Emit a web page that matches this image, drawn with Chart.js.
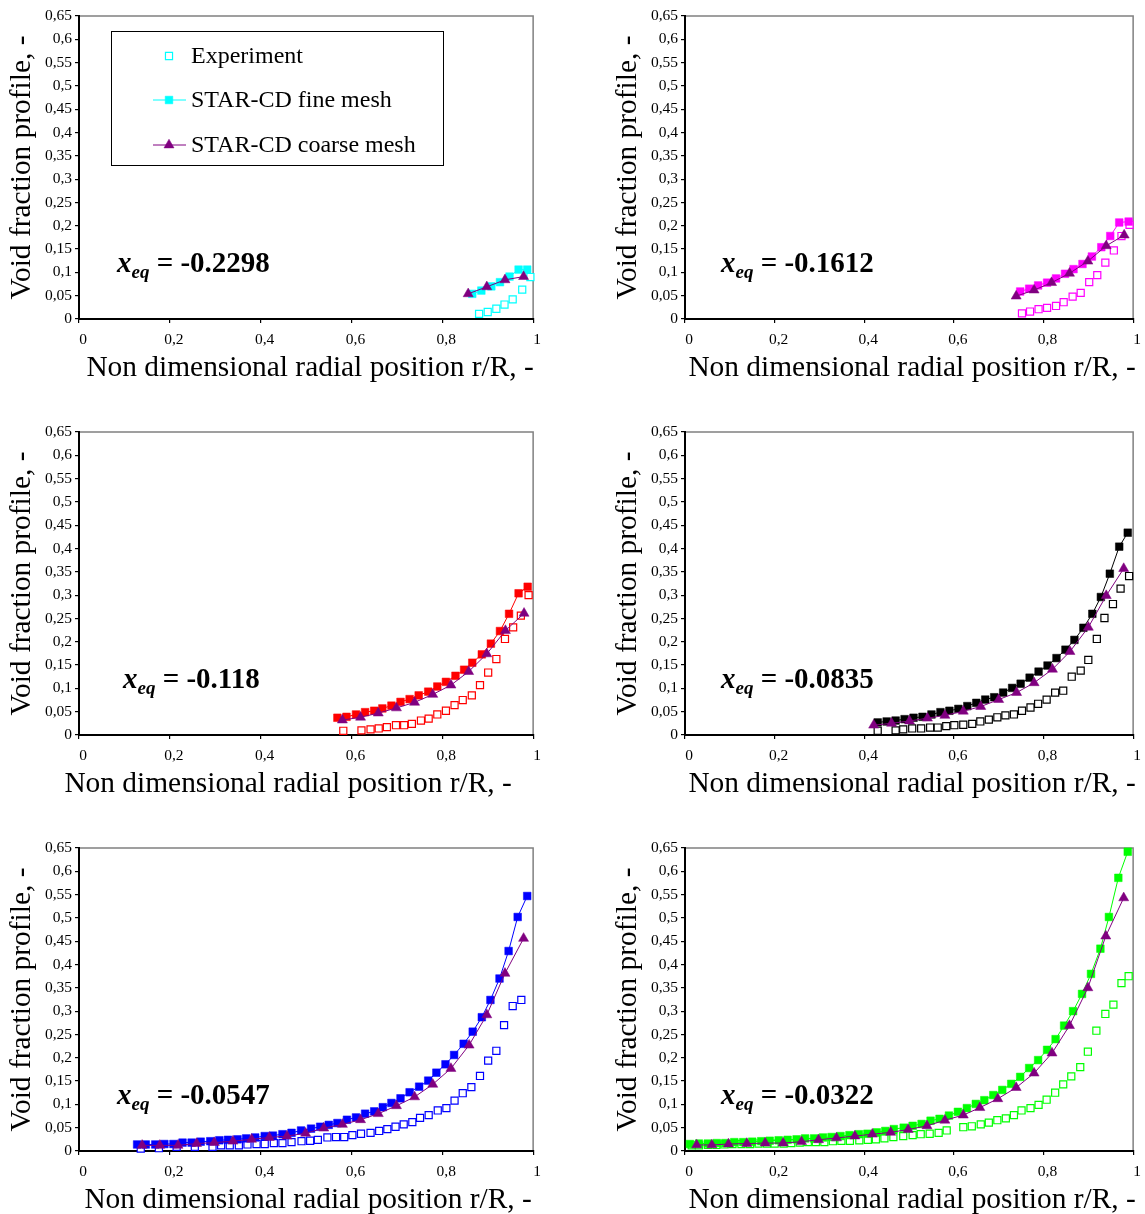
<!DOCTYPE html>
<html>
<head>
<meta charset="utf-8">
<script src="https://cdn.jsdelivr.net/npm/chart.js@4.4.0/dist/chart.umd.min.js"></script>
<style>
  html, body { margin: 0; padding: 0; background: #fff; }
  body { width: 1145px; height: 1214px; position: relative; overflow: hidden; }
  .panel { position: absolute; }
  .panel canvas { display: block; }
</style>
</head>
<body>
<div class="panel" style="left:0;top:0"><canvas id="p1" width="545" height="400"></canvas></div>
<div class="panel" style="left:606px;top:0"><canvas id="p2" width="539" height="400"></canvas></div>
<div class="panel" style="left:0;top:416px"><canvas id="p3" width="545" height="400"></canvas></div>
<div class="panel" style="left:606px;top:416px"><canvas id="p4" width="539" height="400"></canvas></div>
<div class="panel" style="left:0;top:832px"><canvas id="p5" width="545" height="400"></canvas></div>
<div class="panel" style="left:606px;top:832px"><canvas id="p6" width="539" height="400"></canvas></div>
<script>
// ---- radial void fraction profiles, r/R vs alpha ----

// x_eq = -0.2298
const p1ExpR    = [0.881, 0.900, 0.919, 0.937, 0.955, 0.976, 0.994];
const p1ExpA    = [0.011, 0.015, 0.022, 0.031, 0.042, 0.063, 0.090];
const p1FineR   = [0.866, 0.886, 0.908, 0.927, 0.948, 0.968, 0.987];
const p1FineA   = [0.054, 0.061, 0.070, 0.079, 0.091, 0.106, 0.106];
const p1CoarseR = [0.857, 0.898, 0.938, 0.979];
const p1CoarseA = [0.054, 0.069, 0.084, 0.091];

// x_eq = -0.1612
const p2ExpR    = [0.752, 0.770, 0.789, 0.808, 0.828, 0.845, 0.865, 0.883, 0.902, 0.920, 0.938, 0.957, 0.974, 0.992];
const p2ExpA    = [0.012, 0.016, 0.021, 0.024, 0.028, 0.036, 0.048, 0.056, 0.079, 0.094, 0.121, 0.147, 0.178, 0.202];
const p2FineR   = [0.748, 0.768, 0.788, 0.808, 0.828, 0.848, 0.867, 0.887, 0.908, 0.929, 0.949, 0.969, 0.990];
const p2FineA   = [0.059, 0.065, 0.072, 0.078, 0.087, 0.097, 0.107, 0.118, 0.134, 0.154, 0.178, 0.207, 0.209];
const p2CoarseR = [0.739, 0.779, 0.818, 0.858, 0.899, 0.940, 0.980];
const p2CoarseA = [0.049, 0.062, 0.078, 0.098, 0.124, 0.157, 0.180];

// x_eq = -0.118
const p3ExpR    = [0.582, 0.622, 0.642, 0.660, 0.678, 0.698, 0.716, 0.733, 0.753, 0.770, 0.789, 0.808, 0.827, 0.845, 0.865, 0.883, 0.901, 0.919, 0.938, 0.956, 0.973, 0.990];
const p3ExpA    = [0.009, 0.010, 0.012, 0.014, 0.017, 0.021, 0.021, 0.024, 0.031, 0.035, 0.044, 0.052, 0.064, 0.075, 0.085, 0.107, 0.134, 0.163, 0.206, 0.231, 0.256, 0.300];
const p3FineR   = [0.569, 0.589, 0.610, 0.630, 0.650, 0.668, 0.688, 0.708, 0.728, 0.748, 0.769, 0.789, 0.808, 0.829, 0.848, 0.866, 0.887, 0.907, 0.927, 0.947, 0.968, 0.988];
const p3FineA   = [0.037, 0.039, 0.044, 0.049, 0.052, 0.057, 0.063, 0.071, 0.077, 0.085, 0.093, 0.104, 0.114, 0.127, 0.140, 0.155, 0.173, 0.196, 0.223, 0.260, 0.304, 0.318];
const p3CoarseR = [0.580, 0.620, 0.659, 0.699, 0.739, 0.779, 0.819, 0.858, 0.898, 0.939, 0.980];
const p3CoarseA = [0.032, 0.038, 0.047, 0.058, 0.070, 0.087, 0.107, 0.136, 0.174, 0.224, 0.261];

// x_eq = -0.0835
const p4ExpR    = [0.430, 0.470, 0.487, 0.507, 0.527, 0.547, 0.564, 0.583, 0.601, 0.621, 0.641, 0.659, 0.678, 0.697, 0.715, 0.734, 0.752, 0.771, 0.788, 0.807, 0.826, 0.844, 0.863, 0.883, 0.900, 0.919, 0.936, 0.955, 0.972, 0.991];
const p4ExpA    = [0.009, 0.010, 0.012, 0.014, 0.014, 0.016, 0.016, 0.019, 0.021, 0.022, 0.024, 0.029, 0.033, 0.038, 0.042, 0.044, 0.052, 0.059, 0.067, 0.076, 0.091, 0.095, 0.125, 0.138, 0.161, 0.206, 0.251, 0.281, 0.314, 0.341];
const p4FineR   = [0.430, 0.450, 0.470, 0.490, 0.510, 0.530, 0.550, 0.570, 0.590, 0.610, 0.630, 0.650, 0.670, 0.690, 0.710, 0.730, 0.749, 0.769, 0.789, 0.809, 0.829, 0.849, 0.869, 0.889, 0.909, 0.928, 0.948, 0.969, 0.988];
const p4FineA   = [0.027, 0.029, 0.031, 0.034, 0.037, 0.039, 0.044, 0.049, 0.052, 0.056, 0.062, 0.069, 0.076, 0.081, 0.091, 0.101, 0.110, 0.123, 0.136, 0.149, 0.165, 0.183, 0.204, 0.230, 0.260, 0.296, 0.346, 0.404, 0.434];
const p4CoarseR = [0.421, 0.461, 0.501, 0.541, 0.580, 0.621, 0.660, 0.700, 0.740, 0.779, 0.820, 0.859, 0.900, 0.940, 0.979];
const p4CoarseA = [0.021, 0.025, 0.030, 0.036, 0.042, 0.051, 0.061, 0.076, 0.091, 0.112, 0.141, 0.179, 0.231, 0.299, 0.357];

// x_eq = -0.0547
const p5ExpR    = [0.136, 0.176, 0.215, 0.255, 0.294, 0.313, 0.332, 0.352, 0.371, 0.391, 0.409, 0.429, 0.448, 0.468, 0.490, 0.509, 0.526, 0.547, 0.566, 0.584, 0.602, 0.621, 0.642, 0.661, 0.679, 0.697, 0.715, 0.734, 0.751, 0.770, 0.790, 0.809, 0.827, 0.845, 0.864, 0.883, 0.901, 0.919, 0.936, 0.955, 0.974];
const p5ExpA    = [0.005, 0.006, 0.009, 0.009, 0.009, 0.012, 0.012, 0.012, 0.014, 0.015, 0.015, 0.017, 0.017, 0.019, 0.021, 0.022, 0.024, 0.029, 0.030, 0.030, 0.034, 0.037, 0.039, 0.043, 0.047, 0.052, 0.057, 0.062, 0.071, 0.077, 0.087, 0.092, 0.108, 0.124, 0.137, 0.161, 0.194, 0.215, 0.270, 0.311, 0.324];
const p5FineR   = [0.128, 0.147, 0.168, 0.188, 0.208, 0.228, 0.248, 0.268, 0.289, 0.309, 0.328, 0.349, 0.368, 0.388, 0.409, 0.427, 0.448, 0.468, 0.489, 0.511, 0.531, 0.550, 0.569, 0.590, 0.610, 0.630, 0.650, 0.669, 0.688, 0.708, 0.728, 0.749, 0.769, 0.787, 0.807, 0.826, 0.847, 0.867, 0.887, 0.906, 0.926, 0.946, 0.966, 0.987];
const p5FineA   = [0.014, 0.014, 0.014, 0.015, 0.015, 0.018, 0.018, 0.020, 0.021, 0.023, 0.024, 0.025, 0.027, 0.029, 0.032, 0.033, 0.036, 0.039, 0.044, 0.048, 0.052, 0.056, 0.060, 0.067, 0.072, 0.080, 0.085, 0.094, 0.103, 0.113, 0.126, 0.138, 0.151, 0.168, 0.186, 0.206, 0.230, 0.256, 0.287, 0.324, 0.370, 0.429, 0.502, 0.547];
const p5CoarseR = [0.139, 0.178, 0.218, 0.259, 0.298, 0.339, 0.380, 0.419, 0.458, 0.499, 0.539, 0.580, 0.620, 0.659, 0.699, 0.739, 0.779, 0.819, 0.859, 0.898, 0.938, 0.979];
const p5CoarseA = [0.012, 0.012, 0.012, 0.016, 0.018, 0.021, 0.025, 0.029, 0.032, 0.038, 0.049, 0.057, 0.067, 0.080, 0.097, 0.116, 0.143, 0.177, 0.227, 0.292, 0.381, 0.456];

// x_eq = -0.0322
const p6ExpR    = [0.015, 0.031, 0.051, 0.070, 0.088, 0.106, 0.126, 0.145, 0.164, 0.183, 0.200, 0.220, 0.237, 0.256, 0.274, 0.292, 0.311, 0.330, 0.349, 0.368, 0.389, 0.408, 0.426, 0.445, 0.465, 0.487, 0.508, 0.526, 0.546, 0.566, 0.584, 0.621, 0.640, 0.660, 0.678, 0.697, 0.716, 0.734, 0.751, 0.771, 0.789, 0.807, 0.826, 0.844, 0.862, 0.882, 0.899, 0.918, 0.938, 0.956, 0.974, 0.990];
const p6ExpA    = [0.012, 0.012, 0.013, 0.013, 0.014, 0.015, 0.015, 0.015, 0.016, 0.016, 0.016, 0.016, 0.017, 0.018, 0.019, 0.019, 0.019, 0.021, 0.022, 0.022, 0.023, 0.024, 0.025, 0.027, 0.030, 0.032, 0.034, 0.036, 0.037, 0.039, 0.044, 0.051, 0.053, 0.057, 0.061, 0.066, 0.070, 0.077, 0.087, 0.092, 0.099, 0.110, 0.125, 0.143, 0.160, 0.180, 0.213, 0.258, 0.294, 0.314, 0.360, 0.375];
const p6FineR   = [0.011, 0.031, 0.051, 0.071, 0.090, 0.110, 0.130, 0.150, 0.170, 0.189, 0.209, 0.229, 0.249, 0.268, 0.288, 0.308, 0.327, 0.347, 0.367, 0.388, 0.407, 0.428, 0.447, 0.466, 0.488, 0.508, 0.528, 0.548, 0.568, 0.589, 0.609, 0.629, 0.649, 0.668, 0.688, 0.708, 0.728, 0.748, 0.768, 0.788, 0.808, 0.827, 0.846, 0.866, 0.886, 0.906, 0.927, 0.946, 0.967, 0.988];
const p6FineA   = [0.015, 0.016, 0.016, 0.017, 0.017, 0.019, 0.019, 0.020, 0.021, 0.022, 0.023, 0.024, 0.025, 0.027, 0.027, 0.029, 0.030, 0.032, 0.034, 0.036, 0.037, 0.040, 0.043, 0.047, 0.050, 0.054, 0.058, 0.065, 0.069, 0.076, 0.084, 0.092, 0.101, 0.109, 0.120, 0.131, 0.144, 0.159, 0.178, 0.195, 0.217, 0.240, 0.269, 0.300, 0.337, 0.380, 0.434, 0.502, 0.586, 0.642];
const p6CoarseR = [0.026, 0.060, 0.097, 0.138, 0.179, 0.219, 0.260, 0.298, 0.338, 0.379, 0.418, 0.459, 0.498, 0.540, 0.580, 0.621, 0.658, 0.698, 0.739, 0.779, 0.819, 0.858, 0.899, 0.939, 0.979];
const p6CoarseA = [0.013, 0.013, 0.015, 0.016, 0.017, 0.017, 0.020, 0.024, 0.028, 0.032, 0.036, 0.040, 0.046, 0.054, 0.066, 0.077, 0.093, 0.112, 0.136, 0.167, 0.210, 0.269, 0.350, 0.461, 0.543];

const seriesNames = ['Experiment', 'STAR-CD fine mesh', 'STAR-CD coarse mesh'];
const xTitle = 'Non dimensional radial position r/R, -';
const yTitle = 'Void fraction profile, -';

const COARSE = '#800080';
const SERIF = '"Liberation Serif", "Times New Roman", serif';
const TITLE_PX = 29.4;

// comma decimals, trailing zeros dropped
const fmt = v => String(parseFloat(v.toFixed(2))).replace('.', ',');
const pts = (r, a) => r.map((v, i) => ({ x: v, y: a[i] }));

// grey box round the plot area; the axes draw black over its left/bottom edges
const framePlugin = {
  id: 'frame',
  beforeDraw(chart) {
    const { ctx, chartArea: a } = chart;
    ctx.save();
    ctx.strokeStyle = '#808080';
    ctx.lineWidth = 1.5;
    ctx.strokeRect(a.left, a.top, a.right - a.left, a.bottom - a.top);
    ctx.restore();
  }
};

function marker(ctx, ds, x, y) {
  const r = ds.pointRadius;
  ctx.save();
  ctx.fillStyle = ds.pointBackgroundColor;
  ctx.strokeStyle = ds.pointBorderColor;
  ctx.lineWidth = ds.pointBorderWidth;
  ctx.beginPath();
  if (ds.pointStyle === 'triangle') {
    for (let k = 0; k < 3; k++) {
      const ang = k * 2 * Math.PI / 3;
      const px = x + Math.sin(ang) * r, py = y - Math.cos(ang) * r;
      k ? ctx.lineTo(px, py) : ctx.moveTo(px, py);
    }
    ctx.closePath();
  } else {
    const h = Math.SQRT1_2 * r;
    ctx.rect(x - h, y - h, 2 * h, 2 * h);
  }
  ctx.fill();
  ctx.stroke();
  ctx.restore();
}

// boxed legend inside the first panel
const legendPlugin = {
  id: 'meshLegend',
  afterDraw(chart, args, opts) {
    if (!opts.show) return;
    const { ctx, chartArea: a } = chart;
    const bx = a.left + 32, by = a.top + 15, bw = 332, bh = 134;
    const rows = [25, 69, 114];
    ctx.save();
    ctx.fillStyle = '#fff';
    ctx.fillRect(bx, by, bw, bh);
    ctx.strokeStyle = '#000';
    ctx.lineWidth = 1;
    ctx.strokeRect(bx + 0.5, by + 0.5, bw, bh);
    chart.data.datasets.forEach((ds, i) => {
      const y = by + rows[i];
      if (ds.showLine) {
        ctx.strokeStyle = ds.borderColor;
        ctx.lineWidth = ds.borderWidth;
        ctx.beginPath();
        ctx.moveTo(bx + 42, y);
        ctx.lineTo(bx + 75, y);
        ctx.stroke();
      }
      marker(ctx, ds, bx + 58, y);
      ctx.fillStyle = '#000';
      ctx.font = '24px ' + SERIF;
      ctx.textBaseline = 'middle';
      ctx.fillText(ds.label, bx + 80, y + 1);
    });
    ctx.restore();
  }
};

// "x_eq = ..." caption, bold with italic subscript
const xeqPlugin = {
  id: 'xeq',
  afterDraw(chart, args, opts) {
    const { ctx, chartArea: a } = chart;
    let x = a.left + opts.dx;
    const y = a.bottom - 47;
    ctx.save();
    ctx.fillStyle = '#000';
    ctx.textBaseline = 'alphabetic';
    ctx.font = 'italic bold 29px ' + SERIF;
    ctx.fillText('x', x, y);
    x += ctx.measureText('x').width;
    ctx.font = 'italic bold 19px ' + SERIF;
    ctx.fillText('eq', x, y + 6);
    x += ctx.measureText('eq').width;
    ctx.font = 'bold 29px ' + SERIF;
    ctx.fillText(' = ' + opts.value, x, y);
    ctx.restore();
  }
};

// x axis caption under the tick labels; shift nudges it off the plot centre
const xTitlePlugin = {
  id: 'xCaption',
  afterDraw(chart, args, opts) {
    const { ctx, chartArea: a } = chart;
    ctx.save();
    ctx.fillStyle = '#000';
    ctx.font = TITLE_PX + 'px ' + SERIF;
    ctx.textAlign = 'center';
    ctx.textBaseline = 'middle';
    ctx.fillText(xTitle, (a.left + a.right) / 2 + (opts.shift || 0), a.bottom + 49);
    ctx.restore();
  }
};

function makePanel(id, p) {
  const tickFont = { family: SERIF, size: 15.5 };
  return new Chart(document.getElementById(id), {
    type: 'scatter',
    data: {
      datasets: [
        {
          label: seriesNames[0], data: pts(p.expR, p.expA), order: 3, showLine: false,
          pointStyle: 'rect', pointRadius: 5, pointBackgroundColor: '#fff',
          pointBorderColor: p.color, pointBorderWidth: 1.2, borderColor: p.color, clip: false
        },
        {
          label: seriesNames[1], data: pts(p.fineR, p.fineA), order: 2, showLine: true,
          borderColor: p.color, borderWidth: 1, tension: 0,
          pointStyle: 'rect', pointRadius: 5.4, pointBackgroundColor: p.color,
          pointBorderColor: p.color, pointBorderWidth: 0.5, clip: false
        },
        {
          label: seriesNames[2], data: pts(p.coarseR, p.coarseA), order: 1, showLine: true,
          borderColor: COARSE, borderWidth: 1, tension: 0,
          pointStyle: 'triangle', pointRadius: 5.8, pointBackgroundColor: COARSE,
          pointBorderColor: COARSE, pointBorderWidth: 0.5, clip: false
        }
      ]
    },
    options: {
      responsive: false,
      animation: false,
      events: [],
      devicePixelRatio: 1,
      layout: { padding: { left: 0, top: 16, right: p.padRight, bottom: 0 } },
      plugins: {
        legend: { display: false },
        tooltip: { enabled: false },
        meshLegend: { show: !!p.legend },
        xeq: { value: p.xeq, dx: p.dx },
        xCaption: { shift: p.titleShift }
      },
      scales: {
        x: {
          type: 'linear', min: 0, max: 1,
          afterFit: s => { s.height = 81; },
          ticks: {
            stepSize: 0.2, color: '#000', font: tickFont, padding: 8, labelOffset: 4,
            maxRotation: 0, autoSkip: false, callback: fmt
          },
          grid: { drawOnChartArea: false, drawTicks: true, tickLength: 4, color: '#000', lineWidth: 1.2 },
          border: { display: true, color: '#000', width: 2 }
        },
        y: {
          type: 'linear', min: 0, max: 0.65,
          afterFit: s => { s.width = 79; },
          ticks: {
            stepSize: 0.05, color: '#000', font: tickFont, padding: 3,
            autoSkip: false, callback: fmt
          },
          grid: { drawOnChartArea: false, drawTicks: true, tickLength: 4, color: '#000', lineWidth: 1.2 },
          border: { display: true, color: '#000', width: 2 },
          title: {
            display: true, text: yTitle, color: '#000',
            font: { family: SERIF, size: TITLE_PX }, padding: { top: 4.4, bottom: 0 }
          }
        }
      }
    },
    plugins: [framePlugin, legendPlugin, xeqPlugin, xTitlePlugin]
  });
}

makePanel('p1', { color: '#00FFFF', expR: p1ExpR, expA: p1ExpA, fineR: p1FineR, fineA: p1FineA,
  coarseR: p1CoarseR, coarseA: p1CoarseA, xeq: '-0.2298', dx: 38, padRight: 10.5, titleShift: 4, legend: true });
makePanel('p2', { color: '#FF00FF', expR: p2ExpR, expA: p2ExpA, fineR: p2FineR, fineA: p2FineA,
  coarseR: p2CoarseR, coarseA: p2CoarseA, xeq: '-0.1612', dx: 36, padRight: 6, titleShift: 3 });
makePanel('p3', { color: '#FF0000', expR: p3ExpR, expA: p3ExpA, fineR: p3FineR, fineA: p3FineA,
  coarseR: p3CoarseR, coarseA: p3CoarseA, xeq: '-0.118', dx: 44, padRight: 10.5, titleShift: -18 });
makePanel('p4', { color: '#000000', expR: p4ExpR, expA: p4ExpA, fineR: p4FineR, fineA: p4FineA,
  coarseR: p4CoarseR, coarseA: p4CoarseA, xeq: '-0.0835', dx: 36, padRight: 6, titleShift: 3 });
makePanel('p5', { color: '#0000FF', expR: p5ExpR, expA: p5ExpA, fineR: p5FineR, fineA: p5FineA,
  coarseR: p5CoarseR, coarseA: p5CoarseA, xeq: '-0.0547', dx: 38, padRight: 10.5, titleShift: 2 });
makePanel('p6', { color: '#00FF00', expR: p6ExpR, expA: p6ExpA, fineR: p6FineR, fineA: p6FineA,
  coarseR: p6CoarseR, coarseA: p6CoarseA, xeq: '-0.0322', dx: 36, padRight: 6, titleShift: 3 });
</script>
</body>
</html>
